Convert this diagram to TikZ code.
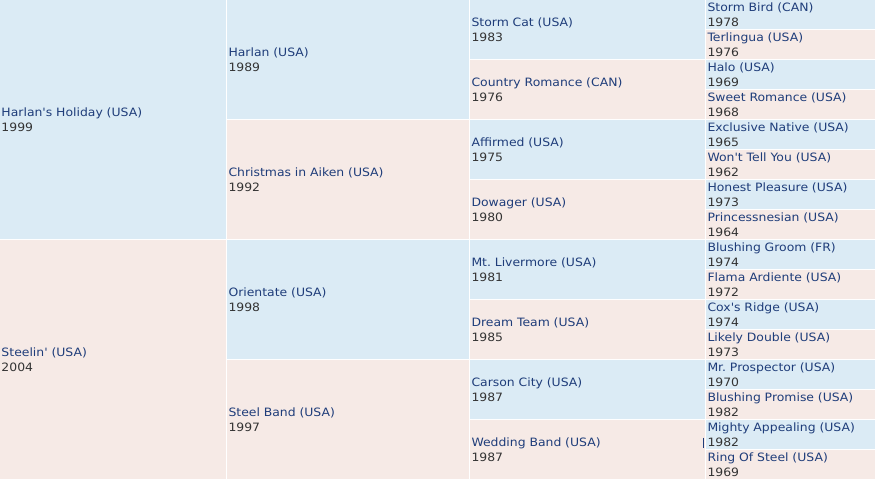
\documentclass[tikz,border=0pt]{standalone}
\usepackage{fontspec}
\setmainfont{DejaVu Sans}[Ligatures=TeXOff,FakeStretch=1.08]
\definecolor{sireblue}{RGB}{219,235,245}
\definecolor{dampink}{RGB}{246,234,230}
\definecolor{namenavy}{RGB}{31,61,122}
\definecolor{yeargrey}{RGB}{51,51,51}
\newcommand{\yr}[1]{\textcolor{yeargrey}{#1}}
\frenchspacing

\begin{document}
\begin{tikzpicture}[x=1pt,y=1pt,grow'=right,edge from parent/.style={draw=none},
    every node/.style={rectangle,inner sep=1.5pt,align=left,text=namenavy,font=\fontsize{11.5}{15}\selectfont},
    sire/.style={fill=sireblue},dam/.style={fill=dampink},
    level 1/.style={level distance=235pt,sibling distance=120pt,nodes={minimum width=242pt,minimum height=119pt,text width=239pt}},
    level 2/.style={level distance=239.5pt,sibling distance=60pt,nodes={minimum width=235pt,minimum height=59pt,text width=232pt}},
    level 3/.style={level distance=203pt,sibling distance=30pt,nodes={minimum width=169pt,minimum height=29pt,text width=166pt}}]
    \useasboundingbox[fill=white] (0,0) rectangle (875,-483);
    
    \node[sire,minimum width=226pt,minimum height=239pt,text width=223pt] (hh) at (113,-119.5) {Harlan's Holiday (USA)\\\yr{1999}}
      child{node[sire] (ha) {Harlan (USA)\\\yr{1989}}
	child{node[sire] (sc) {Storm Cat (USA)\\\yr{1983}}
	  child{node[sire] (sb) {Storm Bird (CAN)\\\yr{1978}}}
	  child{node[dam] (te) {Terlingua (USA)\\\yr{1976}}}
	}
	child{node[dam] (cr) {Country Romance (CAN)\\\yr{1976}}
	  child{node[sire] (hl) {Halo (USA)\\\yr{1969}}}
	  child{node[dam] (sr) {Sweet Romance (USA)\\\yr{1968}}}
	}
      }
      child{node[dam] (ca) {Christmas in Aiken (USA)\\\yr{1992}}
	child{node[sire] (af) {Affirmed (USA)\\\yr{1975}}
	  child{node[sire] (en) {Exclusive Native (USA)\\\yr{1965}}}
	  child{node[dam] (wt) {Won't Tell You (USA)\\\yr{1962}}}
	}
	child{node[dam] (dw) {Dowager (USA)\\\yr{1980}}
	  child{node[sire] (hp) {Honest Pleasure (USA)\\\yr{1973}}}
	  child{node[dam] (pn) {Princessnesian (USA)\\\yr{1964}}}
	}
      };
    
    \node[dam,minimum width=226pt,minimum height=239pt,text width=223pt] (st) at (113,-359.5) {Steelin' (USA)\\\yr{2004}}
      child{node[sire] (or) {Orientate (USA)\\\yr{1998}}
	child{node[sire] (ml) {Mt. Livermore (USA)\\\yr{1981}}
	  child{node[sire] (bg) {Blushing Groom (FR)\\\yr{1974}}}
	  child{node[dam] (fa) {Flama Ardiente (USA)\\\yr{1972}}}
	}
	child{node[dam] (dt) {Dream Team (USA)\\\yr{1985}}
	  child{node[sire] (cx) {Cox's Ridge (USA)\\\yr{1974}}}
	  child{node[dam] (ld) {Likely Double (USA)\\\yr{1973}}}
	}
      }
      child{node[dam] (sbd) {Steel Band (USA)\\\yr{1997}}
	child{node[sire] (cc) {Carson City (USA)\\\yr{1987}}
	  child{node[sire] (mp) {Mr. Prospector (USA)\\\yr{1970}}}
	  child{node[dam] (bp) {Blushing Promise (USA)\\\yr{1982}}}
	}
	child{node[dam] (wb) {Wedding Band (USA)\\\yr{1987}}
	  child{node[sire] (ma) {Mighty Appealing (USA)\\\yr{1982}}}
	  child{node[dam] (rs) {Ring Of Steel (USA)\\\yr{1969}}}
	}
      };
    
    % cursor mark
    \draw[namenavy,line width=0.8pt] ([xshift=-2pt,yshift=-3pt]ma.west) -- ([xshift=-2pt,yshift=-13pt]ma.west);
  \end{tikzpicture}
\end{document}
